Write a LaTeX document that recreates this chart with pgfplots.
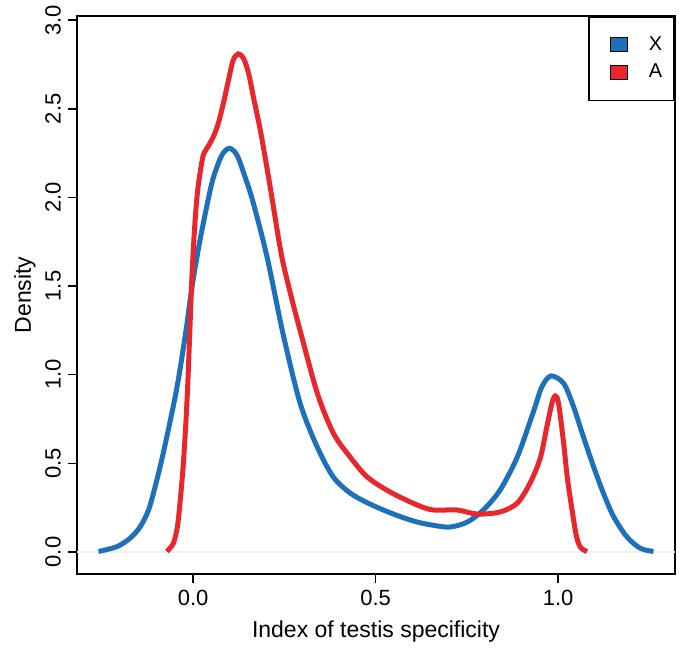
\documentclass[border=0pt]{standalone}
\usepackage{pgfplots}
\pgfplotsset{compat=1.18}
\usepackage{fontspec}
\setmainfont{Liberation Sans}
\definecolor{xblue}{RGB}{30,112,186}
\definecolor{ared}{RGB}{232,38,44}
\newcommand{\fs}{\fontsize{11}{13}\selectfont}
\newcommand{\fl}{\fontsize{11.5}{13.5}\selectfont}
\newcommand{\fg}{\fontsize{10}{12}\selectfont}
\begin{document}
\begin{tikzpicture}
\begin{axis}[
  scale only axis,
  width=299pt, height=279pt,
  xmin=-0.318, xmax=1.320, ymin=-0.124, ymax=3.023,
  axis line style={line width=0.9pt},
  xtick={0,0.5,1}, xticklabels={0.0,0.5,1.0},
  ytick={0,0.5,1,1.5,2,2.5,3}, yticklabels={0.0,0.5,1.0,1.5,2.0,2.5,3.0},
  tick align=outside, major tick length=4.5pt,
  tick style={line width=0.8pt, black},
  xtick pos=bottom, ytick pos=left,
  tick label style={font=\fs},
  yticklabel style={rotate=90, anchor=south},
  xlabel={Index of testis specificity},
  ylabel={Density},
  label style={font=\fl},
  xlabel style={at={(axis description cs:0.5,-0.104)}, anchor=center},
  ylabel style={at={(axis description cs:-0.087,0.5)}, anchor=center, rotate=0},
  legend style={at={(rel axis cs:1,1)}, anchor=north east, draw=black, line width=0.8pt,
    font=\fg, inner xsep=0pt, inner ysep=7.2pt, row sep=0pt, column sep=0pt,
    nodes={inner sep=0pt}},
  legend cell align=left,
]
\draw[black!6, line width=0.6pt] (axis cs:-0.318,0) -- (axis cs:1.320,0);
\addplot[xblue, line width=2.5pt, smooth,
  legend image code/.code={\path[draw=none,fill=none] (-10.5pt,-6.85pt) rectangle (19.3pt,6.85pt);
    \draw[fill=xblue,draw=black,line width=0.6pt] (0pt,-3.5pt) rectangle (8.5pt,3.5pt);}]
coordinates {
(-0.259,0.003) (-0.209,0.030) (-0.173,0.077) (-0.145,0.142) (-0.122,0.237) (-0.104,0.368)
(-0.086,0.519) (-0.068,0.688) (-0.049,0.876) (-0.036,1.027) (-0.018,1.270) (-0.003,1.495)
(0.019,1.760) (0.047,2.042) (0.060,2.140) (0.079,2.239) (0.099,2.277) (0.120,2.239)
(0.142,2.117) (0.164,1.975) (0.203,1.660) (0.247,1.225) (0.293,0.840) (0.340,0.592)
(0.384,0.423) (0.430,0.333) (0.475,0.280) (0.521,0.237) (0.567,0.200) (0.614,0.169)
(0.660,0.150) (0.704,0.141) (0.751,0.169) (0.795,0.237) (0.841,0.350) (0.888,0.536)
(0.932,0.790) (0.955,0.930) (0.980,0.993) (1.015,0.951) (1.042,0.820) (1.069,0.650)
(1.097,0.481) (1.124,0.331) (1.152,0.199) (1.188,0.086) (1.225,0.021) (1.261,0.003)
};
\addlegendentry{X\rule{6pt}{0pt}}
\addplot[ared, line width=2.5pt, smooth,
  legend image code/.code={\path[draw=none,fill=none] (-10.5pt,-6.85pt) rectangle (19.3pt,6.85pt);
    \draw[fill=ared,draw=black,line width=0.6pt] (0pt,-3.5pt) rectangle (8.5pt,3.5pt);}]
coordinates {
(-0.072,0.003) (-0.054,0.049) (-0.043,0.143) (-0.036,0.275) (-0.028,0.462) (-0.022,0.650)
(-0.017,0.839) (-0.013,1.027) (-0.003,1.560) (0.005,1.856) (0.012,2.030) (0.019,2.136)
(0.028,2.239) (0.042,2.290) (0.056,2.345) (0.069,2.418) (0.083,2.531) (0.097,2.662)
(0.110,2.775) (0.124,2.809) (0.138,2.785) (0.152,2.700) (0.165,2.568) (0.184,2.380)
(0.202,2.170) (0.219,1.960) (0.233,1.780) (0.247,1.625) (0.270,1.430) (0.293,1.250)
(0.340,0.897) (0.384,0.671)
(0.430,0.536) (0.477,0.423) (0.540,0.338) (0.614,0.265) (0.658,0.237) (0.723,0.237)
(0.778,0.214) (0.841,0.226) (0.888,0.276) (0.923,0.389) (0.951,0.530) (0.969,0.707)
(0.983,0.839) (0.992,0.880) (1.001,0.839) (1.015,0.613) (1.025,0.420) (1.040,0.210)
(1.051,0.080) (1.062,0.025) (1.079,0.002)
};
\addlegendentry{A\rule{6pt}{0pt}}
\end{axis}
\pgfresetboundingbox
\path[use as bounding box] ([xshift=-38.5pt,yshift=-36.5pt]current axis.south west) rectangle ([xshift=2pt,yshift=8pt]current axis.north east);
\end{tikzpicture}
\end{document}
